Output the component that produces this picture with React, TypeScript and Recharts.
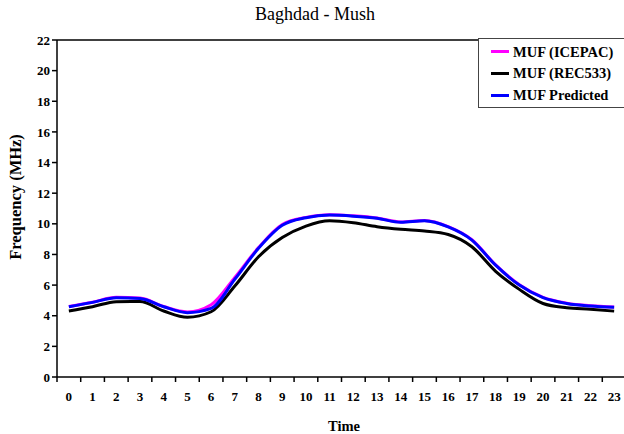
import React from "react";
import { LineChart, Line, XAxis, YAxis, ReferenceLine, Label } from "recharts";

const hours = [0, 1, 2, 3, 4, 5, 6, 7, 8, 9, 10, 11, 12, 13, 14, 15, 16, 17, 18, 19, 20, 21, 22, 23];
const icepac = [4.6, 4.88, 5.2, 5.15, 4.6, 4.25, 4.72, 6.5, 8.45, 9.95, 10.42, 10.6, 10.52, 10.38, 10.12, 10.22, 9.82, 8.96, 7.32, 6.02, 5.2, 4.82, 4.65, 4.57];
const rec533 = [4.31, 4.59, 4.92, 4.93, 4.31, 3.9, 4.26, 5.94, 7.85, 9.1, 9.85, 10.2, 10.07, 9.81, 9.64, 9.53, 9.3, 8.5, 6.9, 5.72, 4.8, 4.52, 4.42, 4.3];
const predicted = [4.59, 4.87, 5.18, 5.13, 4.59, 4.2, 4.48, 6.38, 8.4, 9.9, 10.4, 10.57, 10.5, 10.36, 10.1, 10.2, 9.8, 8.94, 7.3, 6.0, 5.18, 4.8, 4.63, 4.55];
const yTicks = [0, 2, 4, 6, 8, 10, 12, 14, 16, 18, 20, 22];
const xBounds = [...hours, 24];

const series = [
  { key: "icepac", name: "MUF (ICEPAC)", color: "#ff00ff" },
  { key: "rec533", name: "MUF (REC533)", color: "#000000" },
  { key: "predicted", name: "MUF Predicted", color: "#0000ff" },
];

const data = hours.map((h, i) => ({
  pos: h + 0.5,
  icepac: icepac[i],
  rec533: rec533[i],
  predicted: predicted[i],
}));

const FONT = "'Liberation Serif', 'Times New Roman', serif";
const CHART_W = 640;
const CHART_H = 434;
const PLOT_LEFT = 57;
const PLOT_RIGHT_MARGIN = 14;
const STEP = (CHART_W - PLOT_LEFT - PLOT_RIGHT_MARGIN) / 24;

function HourTick(props: any) {
  const { x, y, payload } = props;
  if (payload.value >= 24) return null;
  return (
    <text
      x={x + STEP / 2}
      y={y + 17}
      textAnchor="middle"
      fontFamily={FONT}
      fontWeight="bold"
      fontSize={13}
      fill="#000"
    >
      {payload.value}
    </text>
  );
}

function LegendBox() {
  return (
    <div
      style={{
        position: "absolute",
        left: 478,
        top: 38,
        width: 160,
        height: 70,
        boxSizing: "border-box",
        border: "1.5px solid #444",
        background: "#fff",
        padding: "2px 0 0 12px",
        fontFamily: FONT,
        fontWeight: "bold",
        fontSize: 14.5,
        lineHeight: 1,
        color: "#000",
      }}
    >
      {series.map((s) => (
        <div key={s.key} style={{ display: "flex", alignItems: "center", height: 21.7 }}>
          <span style={{ display: "inline-block", width: 18, height: 3, background: s.color, marginRight: 4 }} />
          {s.name}
        </div>
      ))}
    </div>
  );
}

export default function App() {
  return (
    <div
      style={{
        position: "absolute",
        left: 0,
        top: 0,
        width: 624,
        height: 434,
        overflow: "hidden",
        background: "#fff",
      }}
    >
      <div
        style={{
          position: "absolute",
          left: 0,
          top: 4,
          width: 630,
          textAlign: "center",
          fontFamily: FONT,
          fontSize: 18,
          lineHeight: "20px",
          color: "#000",
        }}
      >
        Baghdad - Mush
      </div>
      <LineChart
        width={CHART_W}
        height={CHART_H}
        data={data}
        margin={{ top: 40, right: PLOT_RIGHT_MARGIN, bottom: 0, left: 0 }}
      >
        <XAxis
          dataKey="pos"
          type="number"
          domain={[0, 24]}
          ticks={xBounds}
          interval={0}
          tick={<HourTick />}
          tickSize={5}
          height={57}
          stroke="#000"
          strokeWidth={1.5}
        >
          <Label
            content={() => (
              <text
                x={344}
                y={431}
                textAnchor="middle"
                fontFamily={FONT}
                fontWeight="bold"
                fontSize={14.5}
                fill="#000"
              >
                Time
              </text>
            )}
          />
        </XAxis>
        <YAxis
          type="number"
          domain={[0, 22]}
          ticks={yTicks}
          interval={0}
          width={PLOT_LEFT}
          tickSize={5}
          stroke="#000"
          strokeWidth={1.5}
          tick={{ fontFamily: FONT, fontWeight: "bold", fontSize: 13, fill: "#000" }}
        >
          <Label
            content={() => (
              <text
                transform="translate(21,197) rotate(-90)"
                textAnchor="middle"
                fontFamily={FONT}
                fontWeight="bold"
                fontSize={16.5}
                fill="#000"
              >
                Frequency (MHz)
              </text>
            )}
          />
        </YAxis>
        <ReferenceLine y={22} stroke="#000" strokeWidth={1.5} />
        <ReferenceLine x={24} stroke="#000" strokeWidth={1.5} />
        {[series[1], series[0], series[2]].map((s) => (
          <Line
            key={s.key}
            type="monotone"
            dataKey={s.key}
            name={s.name}
            stroke={s.color}
            strokeWidth={3}
            dot={false}
            isAnimationActive={false}
          />
        ))}
      </LineChart>
      <LegendBox />
    </div>
  );
}
